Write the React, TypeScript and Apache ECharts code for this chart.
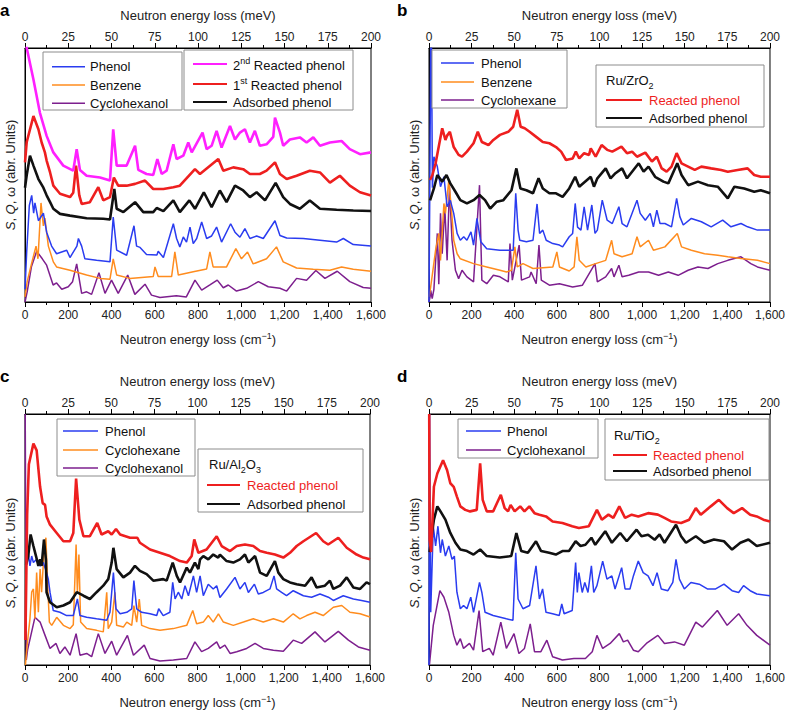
import React, { useEffect, useRef } from "react";
import * as echarts from "echarts";

type P = [number, number][];

// ---------- Panel a ----------
const aCyclohexanol: P = [[0,0],[10,4],[30,14],[54,20],[80,17],[100,14.5],[130,6.7],[146,7.5],[170,5],[200,6],[220,8],[239,15],[262,3.4],[285,4],[308,3],[342,11.5],[370,3.4],[400,8.6],[431,3.4],[475,10.6],[508,3],[555,7],[585,2.7],[624,1.8],[700,2.5],[746,2],[786,8.6],[817,4.7],[855,6.7],[889,8.6],[917,5.6],[940,6.7],[978,4.3],[1025,5.4],[1079,8],[1125,6],[1179,5.4],[1210,4.3],[1256,9.3],[1302,8.6],[1345,12.4],[1387,9.3],[1444,12.1],[1502,8],[1564,5.7],[1600,5.4]];
const aBenzene: P = [[0,2],[10,8],[30,15],[51,22],[60,17],[74,39],[85,30],[92,33],[108,22],[131,15.8],[146,13.8],[208,12.5],[285,10.6],[347,9.3],[393,9],[408,17],[424,10.6],[485,9.3],[593,10],[601,13.8],[616,10],[678,10],[693,19.7],[709,10.6],[778,11.9],[840,13],[855,19.7],[870,13.8],[932,13.8],[975,21],[1001,17],[1029,19.7],[1055,15],[1117,17],[1163,21.7],[1194,15.8],[1256,13.4],[1333,12.9],[1410,12.5],[1464,13.8],[1518,12.9],[1600,12.1]];
const aPhenol: P = [[0,5],[8,20],[20,38],[31,42],[40,35],[46,39],[62,32],[85,35],[100,27.5],[123,22],[146,19],[193,20.4],[208,17.5],[240,22],[247,25],[262,22],[277,17],[331,16.4],[393,15.8],[408,33.4],[424,20.4],[470,18.4],[504,30],[516,22],[532,21.5],[562,18.7],[610,18.5],[616,20],[640,17.5],[686,30.8],[701,25],[716,21.7],[732,25.6],[747,23.6],[763,29.5],[778,23],[794,25],[817,31.5],[840,25],[863,26],[886,29.5],[909,23.6],[951,30.8],[971,27.5],[994,25.5],[1017,28.9],[1040,25],[1071,26],[1102,25],[1156,32],[1179,26.2],[1210,25.2],[1287,25],[1364,24.3],[1441,23.6],[1472,25],[1518,22.6],[1600,22]];
const aAdsorbed: P = [[0,45],[8,50],[23,57.6],[39,53.7],[62,48.4],[85,45],[100,42],[116,39.3],[131,36.7],[162,34.7],[208,34],[285,33],[362,32.8],[393,32.5],[413,44.5],[424,36.7],[455,35.4],[509,39.3],[547,35.4],[593,35.4],[609,37],[640,35.8],[686,40],[716,35.4],[760,40],[786,36.7],[827,43.2],[863,37.3],[901,43.9],[932,39.3],[971,45.8],[1009,43.9],[1040,41.3],[1071,43.2],[1110,40],[1159,46.9],[1194,41.3],[1225,38.6],[1271,36.7],[1317,40],[1364,36.7],[1441,36.3],[1518,36],[1600,35.8]];
const aReacted1: P = [[0,55],[8,63],[39,73.2],[62,68],[77,62.8],[92,58.9],[100,55.7],[116,51],[131,45.8],[162,42.6],[208,41.3],[223,43],[236,53.7],[251,42],[262,38.6],[300,39.3],[339,45.2],[362,40],[393,41.3],[411,49],[431,45.8],[470,45.8],[509,46.5],[555,47.8],[593,44.5],[640,44.5],[686,45.2],[716,45.8],[786,52.3],[809,50.4],[894,56.3],[917,51.7],[963,53],[1009,52.3],[1040,50.4],[1086,50.4],[1117,51.7],[1156,55],[1179,50.4],[1210,48.4],[1256,49.7],[1317,51.7],[1364,51],[1410,47],[1456,49.7],[1502,45.8],[1549,43.2],[1600,41.9]];
const aReacted2: P = [[0,110],[8,100],[39,87.6],[69,74.5],[100,65.4],[131,58.9],[177,53.7],[223,51.7],[239,60.2],[254,52],[285,49.7],[347,49],[393,47.8],[408,68],[424,53.7],[470,53.7],[509,61.5],[524,52],[562,50.4],[593,50],[612,56.3],[632,50.4],[655,51.7],[686,62.1],[701,56.3],[732,57.6],[755,62.8],[771,58.9],[821,66.7],[840,60.2],[863,61.5],[886,67.4],[909,60.8],[948,69.3],[971,64],[994,66.7],[1017,68],[1040,62.8],[1063,67.4],[1086,61.5],[1117,62.1],[1148,65],[1156,72.6],[1179,66.7],[1194,61.5],[1225,64],[1271,64.8],[1302,62.8],[1333,64.8],[1364,61.5],[1410,62.8],[1464,63.4],[1502,60.2],[1549,58.2],[1600,58.9]];

// ---------- Panel b ----------
const bReacted: P = [[5,48],[16,50],[31,54.6],[62,68.4],[77,63.8],[85,65.5],[98,67],[116,61],[139,57.9],[155,57.2],[178,59.2],[209,62.5],[229,67],[248,63],[279,61.8],[302,63.8],[333,65.8],[372,67],[395,69],[414,75.7],[430,69],[449,68.4],[472,67],[503,65],[534,63],[565,62.5],[596,61],[620,59.2],[643,55.9],[674,56.5],[689,59.2],[705,56.5],[728,58.6],[751,57.9],[759,60.5],[782,57.2],[810,61.8],[836,59.9],[860,59.2],[903,61.2],[929,58.6],[953,59.2],[976,57.2],[1015,58.8],[1046,55.3],[1069,57.2],[1092,52.6],[1115,51.3],[1138,53.3],[1162,58.6],[1185,54.6],[1216,53.3],[1247,52],[1278,53.3],[1324,52.6],[1371,52],[1402,51.3],[1448,52],[1495,52.6],[1526,50],[1557,49.3],[1600,49.3]];
const bAdsorbed: P = [[5,40],[23,44.7],[39,50],[62,47.4],[82,50],[100,46.7],[124,43.4],[147,40.1],[178,38.8],[209,40.1],[237,42.1],[263,40.1],[287,36.8],[318,39.5],[349,40.1],[387,44],[410,52.6],[429,44.7],[457,44],[488,42.8],[514,48.7],[534,44.7],[565,42.8],[596,42.8],[627,41.4],[658,44.7],[686,49.3],[705,45.4],[759,49.3],[774,45.4],[790,48.7],[829,52.6],[852,48.7],[875,50.7],[906,52.6],[929,48.7],[984,54.6],[1007,51.3],[1030,53.3],[1061,49.3],[1100,47.4],[1123,46.7],[1165,54.6],[1185,50],[1216,46],[1262,47.4],[1309,46],[1355,45.4],[1402,40.8],[1433,45.4],[1479,44.7],[1526,43.4],[1557,44],[1600,42.8]];
const bPhenol: P = [[0,0],[5,60],[8,100],[12,100],[16,45],[23,57.2],[39,53.3],[54,45.4],[70,49.3],[85,37.5],[100,40],[116,34.9],[132,27],[147,24.3],[163,25.7],[178,24.3],[197,27.6],[209,22.4],[225,32.9],[243,23.7],[271,21],[333,20.4],[395,20.4],[407,42.8],[418,28.3],[426,24.3],[457,23.7],[488,24.3],[507,38.6],[519,27],[534,28.3],[550,24.3],[581,23],[612,22.4],[627,21.7],[658,25.7],[674,27],[686,38.8],[697,29.5],[713,28.3],[728,37.5],[744,28.3],[764,38.2],[779,27],[790,28.3],[813,40.1],[836,32.2],[860,30.9],[891,37.5],[906,30.9],[929,29.6],[953,34.9],[976,40.1],[991,34.9],[1015,32.2],[1038,34.9],[1053,29.6],[1069,36.2],[1084,30.9],[1107,30.9],[1138,29.6],[1162,40.8],[1177,33.6],[1193,30.3],[1231,32.9],[1278,31.6],[1324,29.6],[1378,32.2],[1417,29.6],[1464,30.9],[1495,29.6],[1541,28.3],[1600,28.3]];
const bBenzene: P = [[0,2],[8,6],[16,11],[31,20.4],[46,27],[54,16.4],[70,38.8],[77,34.9],[93,48],[108,33.6],[116,24.3],[132,19],[147,17],[209,15.1],[271,13.8],[333,12.5],[364,11.8],[387,12.5],[403,21.7],[414,13.8],[441,15.1],[488,13.2],[581,13.8],[600,19.7],[612,13.8],[658,12.2],[681,13.8],[694,25.7],[705,16.4],[736,13.8],[782,15.1],[829,16.4],[857,24.3],[868,19],[906,17.8],[953,19],[976,25.7],[991,21.7],[1030,24.3],[1053,20.4],[1107,21.7],[1165,27],[1185,21.7],[1231,20.4],[1293,19],[1355,18.4],[1402,17.8],[1464,17.1],[1541,16.4],[1600,15.1]];
const bCyclohexane: P = [[0,0],[5,2],[8,4.6],[15,1.3],[23,5],[39,27],[46,7],[54,34.9],[62,19],[74,37.5],[85,16.4],[96,45.4],[108,24.3],[124,12.5],[139,9.2],[155,12.5],[178,9.9],[209,7.9],[237,46],[248,8.6],[271,7.2],[302,10.5],[333,9.9],[372,7.9],[380,23],[391,8.6],[423,22.4],[434,8.6],[472,9.9],[479,11.8],[503,7.2],[516,22.4],[527,8.6],[565,6.6],[612,7.2],[674,5.9],[720,6.6],[779,15.1],[790,7.9],[829,9.9],[857,13.2],[868,9.9],[891,14.5],[906,9.9],[937,10.5],[984,11.8],[1030,11.8],[1077,10.5],[1123,11.8],[1169,10.5],[1216,12.5],[1262,13.8],[1309,13.2],[1355,15.1],[1402,16.4],[1464,17.8],[1510,15.1],[1541,13.8],[1600,12.5]];

// ---------- Panel c ----------
const cReacted: P = [[2,10],[10,60],[18,80],[39,88.2],[54,85.5],[70,71],[82,64.5],[93,63.8],[100,59.2],[116,55.9],[147,52.6],[178,49.3],[209,49.3],[224,52.6],[237,74.3],[252,57.9],[271,51.3],[301,51.3],[335,56.6],[355,52],[386,53.3],[402,52],[422,54.2],[441,52],[487,50.7],[521,50.7],[533,48.7],[580,46],[626,44.7],[672,43.4],[719,41.4],[750,40.8],[773,43.4],[785,50],[804,44.7],[842,46],[889,51.3],[912,47.4],[951,45.4],[982,47.4],[1020,48],[1059,47.4],[1090,45.4],[1121,44.7],[1159,44],[1198,42.8],[1229,44.7],[1260,47.4],[1291,49.3],[1350,52.6],[1383,49.3],[1406,48],[1453,50.7],[1492,46.7],[1538,44],[1569,42.8],[1600,42.1]];
const cAdsorbed: P = [[5,40],[15,43.4],[26,52],[39,47.4],[51,43.4],[62,39.5],[70,42.1],[77,39.5],[88,50],[97,42],[100,29],[116,25],[147,23],[178,23.7],[209,25],[240,29],[271,27.6],[301,26.3],[332,29],[363,31.6],[386,34.2],[402,40.8],[410,46.7],[425,38.2],[456,34.9],[487,36.8],[510,39.5],[533,37.5],[564,36.2],[595,33.6],[641,34.2],[657,33.6],[685,40.8],[704,35.5],[719,32.9],[750,38.8],[765,36.8],[788,40.8],[804,38.2],[812,42.1],[827,43.4],[850,42.1],[873,44],[896,42.8],[904,44],[935,41.4],[966,40.8],[997,42.1],[1020,44],[1036,40.8],[1051,42.1],[1067,43.4],[1090,36.8],[1121,35.5],[1159,41.4],[1175,36.8],[1198,34.2],[1229,32.9],[1260,32.2],[1299,31.6],[1329,34.9],[1352,30.9],[1391,31.6],[1414,33.6],[1430,30.3],[1461,31.6],[1492,34.9],[1523,30.9],[1554,30.3],[1584,32.9],[1600,32.2]];
const cPhenol: P = [[5,40],[15,44.7],[23,39.5],[31,43.4],[39,40.8],[54,42.1],[70,39.5],[85,40.8],[100,36.8],[108,34.2],[116,29],[131,21.7],[162,21],[193,19.7],[224,19.7],[243,26.3],[255,19.7],[286,19],[332,18.4],[379,17.8],[394,21],[410,36.8],[422,22.4],[441,20.4],[472,21],[495,22.4],[505,33.6],[518,22.4],[541,21],[580,20.4],[611,19.7],[620,22.4],[641,19.7],[672,21],[685,32.9],[696,26.3],[711,29],[727,26.3],[742,31.6],[758,27.6],[781,35.5],[796,28.9],[812,35.5],[827,27.6],[850,32.2],[873,30.3],[889,31.6],[904,26.9],[935,30.3],[974,34.9],[997,30.3],[1020,32.9],[1036,28.9],[1064,32.2],[1082,28.3],[1105,28.9],[1136,30.3],[1155,35.5],[1167,30.3],[1190,28.9],[1213,27.6],[1244,29.6],[1291,27.6],[1329,27],[1368,28.3],[1407,27],[1430,25.7],[1476,27.6],[1523,26.3],[1561,25.7],[1600,25]];
const cCyclohexane: P = [[2,0],[10,7.9],[23,18.4],[31,29],[39,30.3],[46,18.4],[54,36.8],[62,21],[70,38.2],[77,29],[90,47.4],[97,50.7],[104,34],[113,17.1],[124,15.8],[147,19],[178,15.8],[209,14.5],[224,16],[237,48],[243,29],[250,44],[258,17.1],[286,14.5],[332,13.8],[363,13.2],[379,29],[386,14.5],[402,17.1],[417,29],[425,15.8],[456,15.1],[472,17.1],[495,15.8],[505,23.7],[518,17.1],[530,26.3],[541,15.8],[580,14.5],[626,13.8],[688,14.5],[750,15.8],[778,21.7],[796,16.4],[827,17.1],[850,19.7],[873,17.1],[897,20.4],[920,17.1],[966,15.8],[1013,17.1],[1059,18.4],[1105,17.1],[1152,18.4],[1198,17.1],[1244,20.4],[1275,18.4],[1306,19.7],[1345,21],[1383,19.7],[1430,23],[1469,23.7],[1507,21],[1554,20.4],[1600,19.1]];
const cCyclohexanol: P = [[1,100],[6,2],[12,6],[46,19],[70,17.1],[93,11.8],[116,6.6],[144,8.6],[162,4.6],[185,7.2],[209,3.9],[237,12.5],[255,3.9],[286,4.6],[309,3.3],[340,12.5],[371,4.6],[402,9.5],[425,3.9],[475,11.8],[503,3.9],[553,7.9],[580,2.6],[626,1.6],[688,2],[750,2.6],[788,9.2],[819,5.3],[850,6.6],[889,9.2],[904,6.6],[927,7.9],[951,4.6],[982,5.3],[1028,6.6],[1067,8.6],[1105,6.6],[1152,5.9],[1198,5.5],[1244,9.9],[1283,8.6],[1345,13.2],[1391,9.2],[1453,13.4],[1500,9.9],[1546,7.2],[1600,5.9]];

// ---------- Panel d ----------
const dReacted: P = [[1,100],[3,50],[10,45],[23,71],[39,76.3],[66,81.6],[85,77.6],[100,72.4],[116,71],[131,67.1],[147,63.2],[170,61.8],[193,61.2],[224,61.8],[240,80.3],[252,65.8],[271,61.2],[301,61.2],[337,67.8],[355,62.5],[371,61.2],[383,63.8],[402,61.2],[428,63.2],[448,61.2],[471,63.2],[495,60.5],[518,59.9],[549,59.2],[580,57.2],[626,56.6],[672,55.3],[703,54.6],[750,55.3],[788,61.8],[811,57.9],[842,59.9],[865,58.6],[893,63.2],[920,58.6],[951,59.9],[982,59.2],[1028,60.5],[1074,59.9],[1105,58.6],[1136,57.2],[1183,56.6],[1221,57.9],[1252,62.5],[1275,59.9],[1322,63.2],[1360,65.8],[1399,62.5],[1430,60.5],[1469,62.5],[1507,59.9],[1538,59.2],[1569,57.9],[1600,57.2]];
const dAdsorbed: P = [[3,45],[10,50],[23,57.9],[39,63.2],[54,61.2],[77,57.9],[100,52.6],[124,48.7],[147,46],[178,45.4],[209,44],[240,46],[271,43.4],[332,42.8],[386,43.4],[410,52.6],[433,45.4],[464,44.7],[502,49.3],[526,45.4],[564,44.7],[595,44],[626,45.4],[657,45.4],[688,49.3],[711,47.4],[734,47.9],[762,50.7],[780,47.9],[827,53.3],[858,48.7],[897,52.6],[928,49.3],[974,53.9],[997,51.3],[1028,51.9],[1059,49.9],[1082,52],[1105,48.7],[1159,55.9],[1183,51.3],[1206,48.7],[1252,51.3],[1291,48.7],[1337,50],[1384,49.3],[1422,46],[1461,48.7],[1499,50],[1538,47.4],[1600,48.7]];
const dPhenol: P = [[0,0],[3,100],[5,100],[8,21],[20,55.3],[31,47.4],[42,55.3],[54,44.7],[62,50],[77,43.4],[93,47.4],[108,42.1],[119,43.4],[131,29],[147,22.4],[162,23.7],[178,22.4],[196,27],[209,21],[237,32.9],[248,28.9],[263,21],[301,19.7],[363,18.4],[394,17.8],[407,44.7],[418,26.3],[441,22.4],[472,23.7],[502,39.5],[518,26.3],[533,30.3],[549,21],[580,20.4],[611,19.7],[623,24.3],[634,20.4],[672,21.7],[688,40.8],[696,28.9],[703,36.8],[719,28.9],[731,32.9],[746,28.9],[762,39.5],[773,28.9],[788,31.6],[815,41.4],[835,34.2],[858,35.5],[873,30.3],[904,38.8],[920,30.3],[943,30.3],[959,35.5],[982,41.4],[1005,36.8],[1028,35.5],[1051,31.6],[1070,36.8],[1090,30.3],[1121,29.6],[1144,32.9],[1159,42.1],[1175,34.2],[1198,30.3],[1229,32.9],[1268,32.2],[1306,30.3],[1345,30.3],[1384,32.2],[1422,29.6],[1453,28.9],[1476,31.6],[1507,29.6],[1538,28.3],[1600,27.6]];
const dCyclohexanol: P = [[2,0],[8,5.3],[20,15.8],[51,29.6],[70,27],[93,21],[116,11.8],[131,7.9],[147,10.5],[162,6.6],[190,8.6],[209,5.9],[235,21.7],[252,5.3],[283,6.6],[301,3.9],[337,17.1],[363,6.6],[399,12.5],[422,4.6],[448,6.6],[475,16.4],[495,5.3],[525,5.3],[553,9.9],[580,3.3],[626,2],[680,2.6],[734,2.6],[766,5.3],[788,11.8],[815,6.6],[850,8.6],[893,12.5],[912,9.2],[932,9.9],[959,5.9],[982,5.3],[1020,8.6],[1074,11.8],[1105,8.6],[1152,9.2],[1198,7.9],[1252,17.1],[1283,15.1],[1353,21.7],[1399,15.8],[1453,20.4],[1492,15.8],[1538,11.8],[1600,7.9]];

// ---------- Axes ----------
const cmMin = 0, cmMax = 1600, cmStep = 200;
const meVMin = 0, meVMax = 200, meVStep = 25;
const panelLetters = ["a", "b", "c", "d"];

const BLUE = "#2a3cf0";
const ORANGE = "#ff8c1e";
const PURPLE = "#7d1f8e";
const MAGENTA = "#ff20ff";
const RED = "#ee1f1f";
const BLACK = "#111111";
const FONT = "'Liberation Sans', Arial, Helvetica, sans-serif";

const grids = [
  { left: 25, top: 48, width: 346, height: 254 },
  { left: 429, top: 48, width: 344, height: 254 },
  { left: 25, top: 414, width: 345, height: 254 },
  { left: 429, top: 414, width: 345, height: 254 },
];

const THICK = 2.6;
const THIN = 1.5;

const panelSeries: { g: number; data: P; color: string; w: number }[] = [
  { g: 0, data: aCyclohexanol, color: PURPLE, w: THIN },
  { g: 0, data: aBenzene, color: ORANGE, w: THIN },
  { g: 0, data: aPhenol, color: BLUE, w: THIN },
  { g: 0, data: aAdsorbed, color: BLACK, w: THICK },
  { g: 0, data: aReacted1, color: RED, w: THICK },
  { g: 0, data: aReacted2, color: MAGENTA, w: THICK },
  { g: 1, data: bCyclohexane, color: PURPLE, w: THIN },
  { g: 1, data: bBenzene, color: ORANGE, w: THIN },
  { g: 1, data: bPhenol, color: BLUE, w: THIN },
  { g: 1, data: bAdsorbed, color: BLACK, w: THICK },
  { g: 1, data: bReacted, color: RED, w: THICK },
  { g: 2, data: cCyclohexanol, color: PURPLE, w: THIN },
  { g: 2, data: cCyclohexane, color: ORANGE, w: THIN },
  { g: 2, data: cPhenol, color: BLUE, w: THIN },
  { g: 2, data: cAdsorbed, color: BLACK, w: THICK },
  { g: 2, data: cReacted, color: RED, w: THICK },
  { g: 3, data: dCyclohexanol, color: PURPLE, w: THIN },
  { g: 3, data: dPhenol, color: BLUE, w: THIN },
  { g: 3, data: dAdsorbed, color: BLACK, w: THICK },
  { g: 3, data: dReacted, color: RED, w: THICK },
];

function fmtCm(v: number) {
  if (v >= 1000) return `${Math.floor(v / 1000)},${String(v % 1000).padStart(3, "0")}`;
  return String(v);
}

const axisLineStyle = { color: "#000", width: 1 };

function buildOption() {
  const xAxis: any[] = [];
  const yAxis: any[] = [];
  grids.forEach((_, g) => {
    xAxis.push({
      gridIndex: g, type: "value", position: "bottom", min: cmMin, max: cmMax, interval: cmStep,
      axisLine: { show: true, onZero: false, lineStyle: axisLineStyle },
      axisTick: { show: true, inside: false, length: 5, lineStyle: axisLineStyle },
      minorTick: { show: true, splitNumber: 2, length: 3, lineStyle: axisLineStyle },
      splitLine: { show: false }, minorSplitLine: { show: false },
      axisLabel: { formatter: fmtCm, fontSize: 12, color: "#222", margin: 7, fontFamily: FONT },
      name: "Neutron energy loss (cm{s|\u22121})", nameLocation: "middle", nameGap: 29,
      nameTextStyle: { fontSize: 13, color: "#222", fontFamily: FONT, lineHeight: 16,
        rich: { s: { fontSize: 9, verticalAlign: "top", lineHeight: 10, fontFamily: FONT, color: "#222" } } },
    });
    xAxis.push({
      gridIndex: g, type: "value", position: "top", min: meVMin, max: meVMax, interval: meVStep,
      axisLine: { show: true, onZero: false, lineStyle: axisLineStyle },
      axisTick: { show: true, inside: false, length: 5, lineStyle: axisLineStyle },
      minorTick: { show: true, splitNumber: 2, length: 3, lineStyle: axisLineStyle },
      splitLine: { show: false }, minorSplitLine: { show: false },
      axisLabel: { fontSize: 12, color: "#222", margin: 5, fontFamily: FONT },
      name: "Neutron energy loss (meV)", nameLocation: "middle", nameGap: 26,
      nameTextStyle: { fontSize: 13, color: "#222", fontFamily: FONT },
    });
    yAxis.push({
      gridIndex: g, type: "value", min: 0, max: 100,
      axisLine: { show: true, lineStyle: axisLineStyle },
      axisTick: { show: false }, axisLabel: { show: false }, splitLine: { show: false },
    });
  });

  const series = panelSeries.map((s, i) => ({
    id: "s" + i,
    type: "line",
    xAxisIndex: s.g * 2,
    yAxisIndex: s.g,
    data: s.data,
    showSymbol: false,
    symbol: "none",
    clip: true,
    silent: true,
    lineStyle: { color: s.color, width: s.w },
    itemStyle: { color: s.color },
    z: s.w > 2 ? 3 : 2,
  }));

  const graphic: any[] = [];
  const letterPos = [[0, 10], [397, 10], [0, 376], [397, 376]];
  panelLetters.forEach((L, i) => {
    graphic.push({ type: "text", x: letterPos[i][0], y: letterPos[i][1], z: 100,
      style: { text: L, fill: "#000", font: `bold 17px ${FONT}`, verticalAlign: "middle" } });
  });

  // rotated y-axis titles
  const yTitlePos = [[10, 175], [414, 175], [10, 553], [414, 553]];
  yTitlePos.forEach(([x, y]) => {
    graphic.push({ type: "text", x, y, rotation: Math.PI / 2, z: 100,
      style: { text: "{i|S}, {i|Q}, \u03c9 (abr. Units)", fill: "#222", font: `13px ${FONT}`,
        align: "center", verticalAlign: "middle",
        rich: { i: { fontStyle: "italic", fontSize: 13, fontFamily: FONT, fill: "#222" } } } });
  });

  const box = (x: number, y: number, w: number, h: number) =>
    graphic.push({ type: "rect", z: 100, shape: { x, y, width: w, height: h },
      style: { fill: "#fff", stroke: "#8c8c8c", lineWidth: 1 } });
  const entry = (x1: number, x2: number, tx: number, y: number, color: string, lw: number,
                 text: string, textColor = "#111", rich?: any) => {
    graphic.push({ type: "line", z: 101, shape: { x1, y1: y, x2, y2: y },
      style: { stroke: color, lineWidth: lw } });
    graphic.push({ type: "text", z: 101, x: tx, y,
      style: { text, fill: textColor, font: `13px ${FONT}`, verticalAlign: "middle", rich } });
  };
  const richSup = {
    t: { fontSize: 13, fontFamily: FONT, lineHeight: 16, fill: "#111", verticalAlign: "bottom" },
    s: { fontSize: 9, fontFamily: FONT, lineHeight: 10, fill: "#111", verticalAlign: "top" },
  };
  const richSub = {
    t: { fontSize: 13, fontFamily: FONT, lineHeight: 16, fill: "#111", verticalAlign: "top" },
    s: { fontSize: 9, fontFamily: FONT, lineHeight: 10, fill: "#111", verticalAlign: "bottom" },
  };

  // panel a
  box(43, 52, 139, 58);
  entry(52, 85, 90, 66.7, BLUE, 1.5, "Phenol");
  entry(52, 85, 90, 85, ORANGE, 1.5, "Benzene");
  entry(52, 85, 90, 103.3, PURPLE, 1.5, "Cyclohexanol");
  box(184, 50, 169, 60);
  entry(193, 227, 233, 64, MAGENTA, 2.2, "{t|2}{s|nd}{t| Reacted phenol}", "#111", richSup);
  entry(193, 227, 233, 84, RED, 2.2, "{t|1}{s|st}{t| Reacted phenol}", "#111", richSup);
  entry(193, 227, 233, 102, BLACK, 2.2, "Adsorbed phenol");

  // panel b
  box(432, 50, 135, 58);
  entry(441, 474, 481, 63, BLUE, 1.5, "Phenol");
  entry(441, 474, 481, 82, ORANGE, 1.5, "Benzene");
  entry(441, 474, 481, 100, PURPLE, 1.5, "Cyclohexane");
  box(596, 65, 168, 62);
  graphic.push({ type: "text", z: 101, x: 606, y: 82,
    style: { text: "{t|Ru/ZrO}{s|2}", rich: richSub, verticalAlign: "middle", font: `13px ${FONT}` } });
  entry(606, 642, 649, 100, RED, 2.2, "Reacted phenol", RED);
  entry(606, 642, 649, 118, BLACK, 2.2, "Adsorbed phenol");

  // panel c
  box(57, 419, 138, 57);
  entry(63, 98, 105, 431, BLUE, 1.5, "Phenol");
  entry(63, 98, 105, 450, ORANGE, 1.5, "Cyclohexane");
  entry(63, 98, 105, 468, PURPLE, 1.5, "Cyclohexanol");
  box(198, 449, 165, 63);
  graphic.push({ type: "text", z: 101, x: 209, y: 466,
    style: { text: "{t|Ru/Al}{s|2}{t|O}{s|3}", rich: richSub, verticalAlign: "middle", font: `13px ${FONT}` } });
  entry(207, 240, 247, 485, RED, 2.2, "Reacted phenol", RED);
  entry(207, 240, 247, 504, BLACK, 2.2, "Adsorbed phenol");

  // panel d
  box(458, 419, 140, 39);
  entry(466, 501, 507, 431, BLUE, 1.5, "Phenol");
  entry(466, 501, 507, 450, PURPLE, 1.5, "Cyclohexanol");
  box(605, 419, 164, 61);
  graphic.push({ type: "text", z: 101, x: 614, y: 437,
    style: { text: "{t|Ru/TiO}{s|2}", rich: richSub, verticalAlign: "middle", font: `13px ${FONT}` } });
  entry(613, 647, 653, 455, RED, 2.2, "Reacted phenol", RED);
  entry(613, 647, 653, 471, BLACK, 2.2, "Adsorbed phenol");

  return {
    animation: false,
    backgroundColor: "#ffffff",
    textStyle: { fontFamily: FONT },
    grid: grids.map((g) => ({ ...g, show: true, borderColor: "#000", borderWidth: 1, backgroundColor: "transparent", containLabel: false })),
    xAxis,
    yAxis,
    series,
    graphic,
  };
}

export default function App() {
  const ref = useRef<HTMLDivElement>(null);
  useEffect(() => {
    document.body.style.margin = "0";
    const chart = echarts.init(ref.current!, undefined, { renderer: "svg" });
    chart.setOption(buildOption() as any);
    return () => chart.dispose();
  }, []);
  return <div ref={ref} style={{ width: 788, height: 711 }} />;
}
